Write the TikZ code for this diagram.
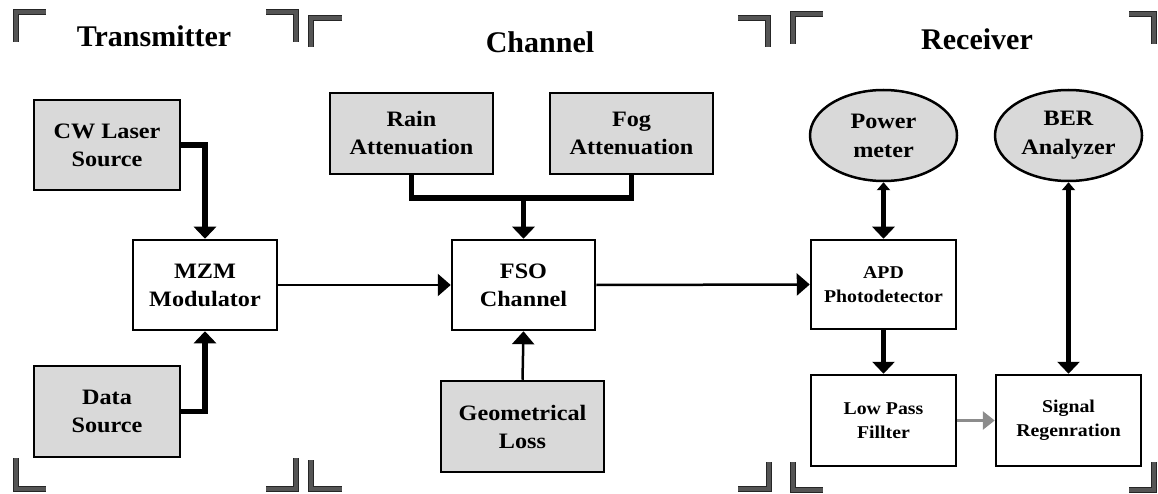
\documentclass[tikz,border=0pt]{standalone}
\usepackage{fontspec}
\setmainfont{Liberation Serif}
\newfontfamily\boxfont[FakeStretch=1.1]{Liberation Serif}
\usetikzlibrary{arrows.meta,shapes.geometric,calc}
\definecolor{boxgray}{HTML}{D9D9D9}
\definecolor{brgray}{HTML}{555555}
\definecolor{arrgray}{HTML}{8C8C8C}
\tikzset{
  blockbox/.style={draw=black,line width=2.5pt,minimum width=#1,minimum height=90pt,inner sep=0pt,align=center,
    font=\boxfont\bfseries\fontsize{22}{28}\selectfont},
  blockbox/.default=145pt,
  graybox/.style={blockbox=#1,fill=boxgray},
  graybox/.default=145pt,
  smallbox/.style={blockbox=145pt,font=\boxfont\bfseries\fontsize{18}{24}\selectfont},
  ovalbox/.style={ellipse,draw=black,line width=2.5pt,fill=boxgray,minimum width=147pt,minimum height=91pt,inner sep=0pt,align=center,
    font=\boxfont\bfseries\fontsize{22}{29}\selectfont},
  titletext/.style={font=\bfseries\fontsize{30}{32}\selectfont,anchor=base,inner sep=0pt},
  thickline/.style={line width=5.5pt},
  thickarrow/.style={line width=5.5pt,-{Triangle[width=22pt,length=12pt]}},
  thinarrow/.style={line width=2.5pt,-{Triangle[width=22pt,length=13pt]}},
  dblarrow/.style={line width=5.5pt,{Triangle[width=13pt,length=8pt]}-{Triangle[width=22pt,length=12pt]}},
  grayarrow/.style={line width=3.5pt,draw=arrgray,-{Triangle[width=18pt,length=12pt]}},
  bracketout/.style={line width=6.5pt,draw=black!85},
  bracketin/.style={line width=3.5pt,draw=brgray},
}
\newcommand{\corner}[3]{\draw[bracketout] #1 -- #2 -- #3; \draw[bracketin] #1 -- #2 -- #3;}
\begin{document}
\begin{tikzpicture}[x=1pt,y=-1pt]
\useasboundingbox (0,0) rectangle (1158,494);
% corner brackets
\corner{(16,42)}{(16,12)}{(46,12)}
\corner{(266,12)}{(296,12)}{(296,42)}
\corner{(311,47)}{(311,18)}{(342,18)}
\corner{(738,18)}{(768,18)}{(768,47)}
\corner{(793,44)}{(793,14)}{(823,14)}
\corner{(1129,14)}{(1154,14)}{(1154,44)}
\corner{(16,458)}{(16,489)}{(46,489)}
\corner{(266,489)}{(296,489)}{(296,458)}
\corner{(311,460)}{(311,489)}{(342,489)}
\corner{(738,489)}{(769,489)}{(769,462)}
\corner{(793,462)}{(793,490)}{(823,490)}
\corner{(1129,490)}{(1154,490)}{(1154,462)}
% titles
\node[titletext] (ttx) at (154,47) {Transmitter};
\node[titletext] (tch) at (540,53) {Channel};
\node[titletext] (trx) at (977,50) {Receiver};
% transmitter
\node[graybox=146pt] (cw) at (107,145) {CW Laser\\Source};
\node[blockbox=144pt] (mzm) at (205,285) {MZM\\Modulator};
\node[graybox=146pt,minimum height=91pt] (data) at (107,411.5) {Data\\Source};
% channel
\node[graybox=163pt,minimum height=81pt] (rain) at (411.5,133.5) {Rain\\Attenuation};
\node[graybox=163pt,minimum height=81pt] (fog) at (631.5,133.5) {Fog\\Attenuation};
\node[blockbox=143pt] (fso) at (523.5,285) {FSO\\Channel};
\node[graybox=163pt,minimum height=91pt] (geo) at (522.5,426.5) {Geometrical\\Loss};
% receiver
\node[ovalbox] (pow) at (883.5,135.5) {Power\\meter};
\node[ovalbox] (ber) at (1068.5,135.5) {BER\\Analyzer};
\node[smallbox,minimum height=89pt] (apd) at (883.5,284.5) {APD\\Photodetector};
\node[smallbox,minimum height=91pt] (lpf) at (883.5,420.5) {Low Pass\\Fillter};
\node[smallbox,minimum height=91pt] (sig) at (1068.5,420.5) {Signal\\Regenration};
% connectors
\draw[thickarrow] (cw.east) -| (mzm.north);
\draw[thickarrow] (data.east) -| (mzm.south);
\coordinate (j) at (fso.north |- 0,198);
\draw[thickline] (rain.south) |- (j) -| (fog.south);
\draw[thickarrow] (j) -- (fso.north);
\draw[thinarrow] (mzm.east) -- (fso.west);
\draw[thinarrow] (geo.north) -- (fso.south);
\draw[thinarrow] (fso.east) -- (apd.west);
\draw[dblarrow] (pow.south) -- (apd.north);
\draw[thickarrow] (apd.south) -- (lpf.north);
\draw[dblarrow] (ber.south) -- (sig.north);
\draw[grayarrow] (lpf.east) -- (sig.west);
\end{tikzpicture}
\end{document}
